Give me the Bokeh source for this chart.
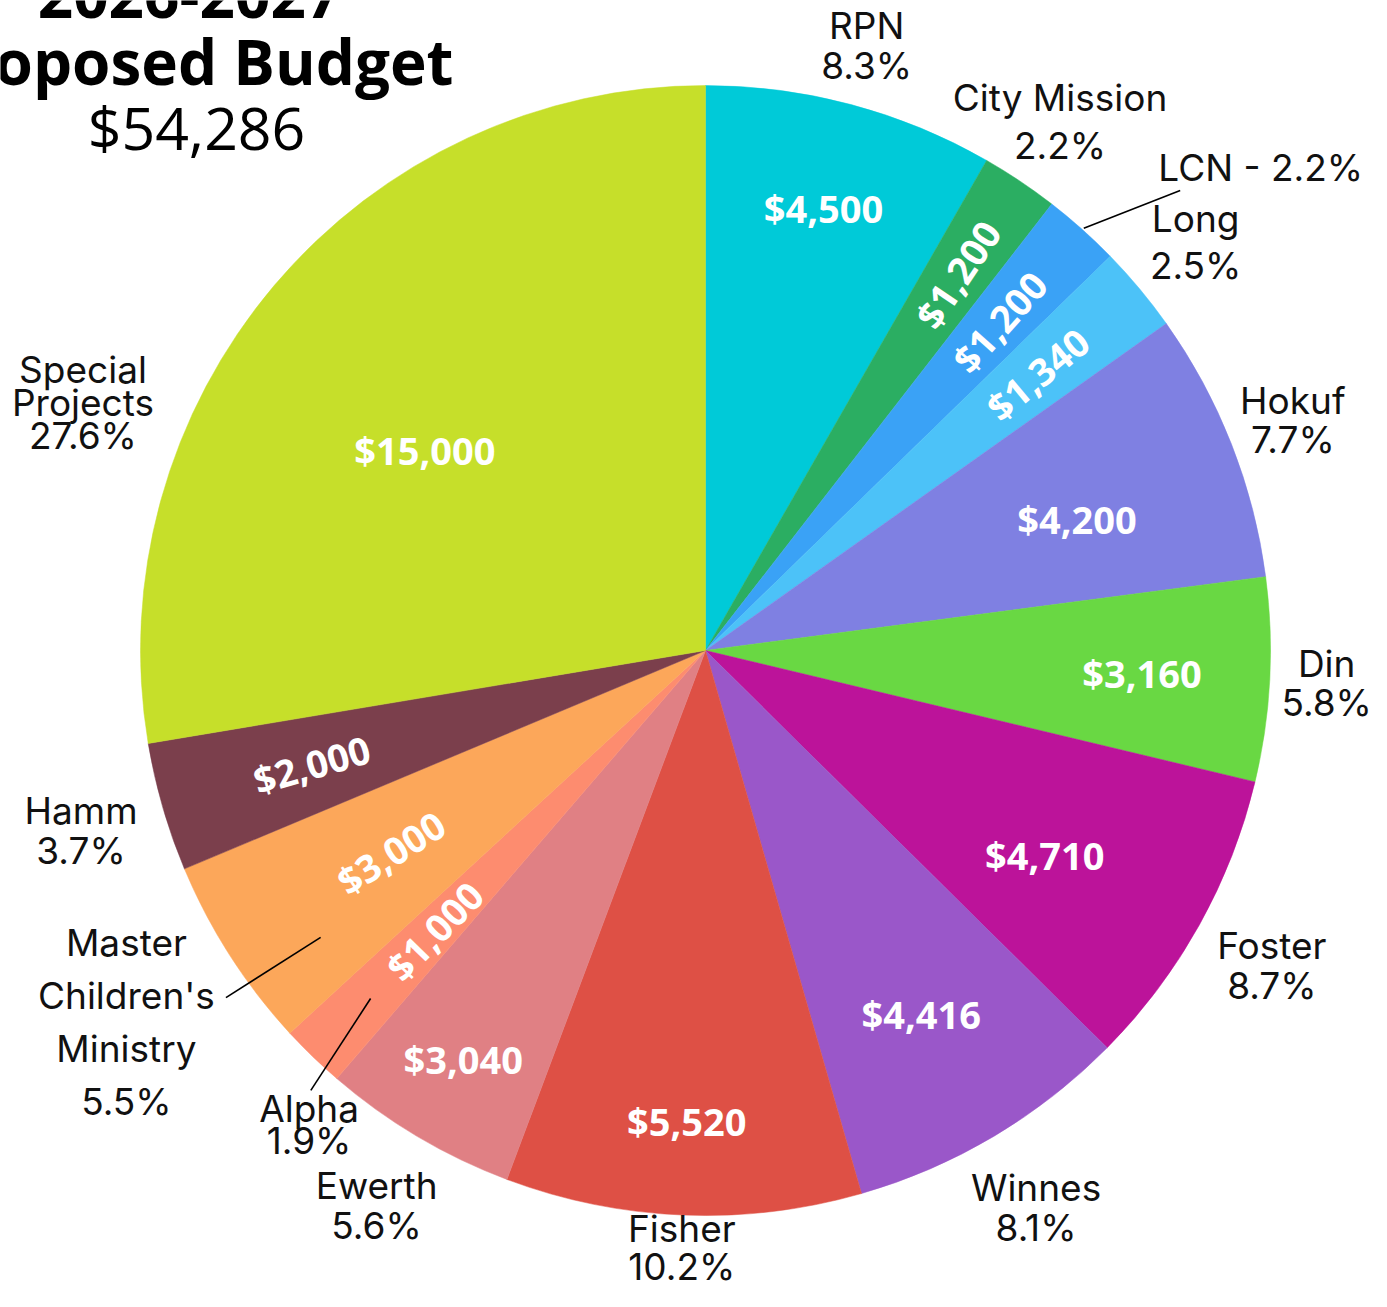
import math
from bokeh.plotting import figure
from bokeh.models import Range1d
from bokeh.embed import file_html
from bokeh.resources import INLINE
from bokeh.core.properties import value

# ---------------- data ----------------
names = ["RPN", "City Mission", "LCN", "Long", "Hokuf", "Din", "Foster", "Winnes",
         "Fisher", "Ewerth", "Alpha", "Master Children's Ministry", "Hamm", "Special Projects"]
amounts = [4500, 1200, 1200, 1340, 4200, 3160, 4710, 4416, 5520, 3040, 1000, 3000, 2000, 15000]
amount_labels = ["$4,500", "$1,200", "$1,200", "$1,340", "$4,200", "$3,160", "$4,710", "$4,416",
                 "$5,520", "$3,040", "$1,000", "$3,000", "$2,000", "$15,000"]
pct_labels = ["8.3%", "2.2%", "2.2%", "2.5%", "7.7%", "5.8%", "8.7%", "8.1%",
              "10.2%", "5.6%", "1.9%", "5.5%", "3.7%", "27.6%"]
colors = ["#00CAD8", "#2BAE62", "#3AA2F6", "#4CC2F8", "#7F80E2", "#69D843", "#BC139A", "#9A57C9",
          "#DE5045", "#E08084", "#FD8C6F", "#FCA75A", "#7B3F4C", "#C6DF2A"]
title_year = "2026-2027"
title_main = "Proposed Budget"
title_total = "$54,286"

# ---------------- layout ----------------
W, H = 1371, 1291
IMG_H = 1307
CX, CY = 705, IMG_H - 650
R = 565

def polar(r, ang_deg):
    a = math.radians(ang_deg)
    return CX + r * math.sin(a), CY + r * math.cos(a)

total = sum(amounts)
starts, ends, mids = [], [], []
cum = 0
for v in amounts:
    a0 = cum / total * 360.0
    cum += v
    a1 = cum / total * 360.0
    starts.append(math.radians(90 - a0))
    ends.append(math.radians(90 - a1))
    mids.append((a0 + a1) / 2)

p = figure(width=W, height=H, output_backend="svg", toolbar_location=None,
           x_range=Range1d(0, W), y_range=Range1d(IMG_H - H, IMG_H),
           min_border=0, outline_line_color=None, background_fill_color="white")
p.axis.visible = False
p.grid.visible = False

p.wedge(x=[CX] * len(amounts), y=[CY] * len(amounts), radius=R,
        start_angle=starts, end_angle=ends, direction="clock",
        fill_color=colors, line_color=colors, line_width=0.5)

# value labels inside slices
val_r = [458, 453, 441, 432, 394, 437, 396, 423, 471, 475, 390, 374, 410, 345]
val_ang_off = {4: 2.0, 6: 2.0, 13: -4.7}
rotated = {1: 1, 2: 1, 3: 1, 10: -1, 11: -1, 12: -1}
vx, vy, va = [], [], []
for i in range(len(amounts)):
    ang = mids[i] + val_ang_off.get(i, 0)
    x, y = polar(val_r[i], ang)
    vx.append(x); vy.append(y)
    if i in rotated:
        rot = math.radians(90 - mids[i])
        if rotated[i] < 0:
            rot += math.pi
        va.append(rot)
    else:
        va.append(0.0)
p.text(x=vx, y=vy, text=amount_labels, angle=va, text_color="white",
       text_font=value("Open Sans"), text_font_style="bold", text_font_size="38px",
       text_align="center", text_baseline="middle")

# outside labels
name_lines = {"Master Children's Ministry": ["Master", "Children's", "Ministry"],
              "Special Projects": ["Special", "Projects"]}
out_r = [626, 637, 736, 638, 631, 622, 648, 648, 597, 645, 618, 688, 650, 670]
out_ang = {2: 48.97, 10: 219.9, 13: 291.7}
spacing = [40, 48, 40, 47, 39, 39, 40, 40, 38, 40, 32, 53, 40, 33]
lx, ly, lt = [], [], []
for i, nm in enumerate(names):
    if nm == "LCN":
        lines = [nm + " - " + pct_labels[i]]
    else:
        lines = name_lines.get(nm, [nm]) + [pct_labels[i]]
    x, y = polar(out_r[i], out_ang.get(i, mids[i]))
    n = len(lines)
    for k, t in enumerate(lines):
        lx.append(x)
        ly.append(y + ((n - 1) / 2 - k) * spacing[i])
        lt.append(t)
p.text(x=lx, y=ly, text=lt, text_color="#111111", text_font=value("Inter"),
       text_font_size="37px", text_align="center", text_baseline="middle")

# leader lines (LCN, Alpha, Master)
leaders = [(2, 567, 41.85, 661, 45.9), (10, 483, 223.9, 591, 221.9), (11, 480, 233.3, 592, 234.1)]
x0s, y0s, x1s, y1s = [], [], [], []
for _, r0, a0, r1, a1 in leaders:
    a, b = polar(r0, a0)
    c, d = polar(r1, a1)
    x0s.append(a); y0s.append(b); x1s.append(c); y1s.append(d)
p.segment(x0=x0s, y0=y0s, x1=x1s, y1=y1s, line_color="black", line_width=1.6)

# title block (clipped at the page edge, as in the reference)
p.text(x=[189], y=[IMG_H + 5], text=[title_year], text_font=value("Open Sans"),
       text_font_style="bold", text_font_size="62px", text_color="black",
       text_align="center", text_baseline="alphabetic")
p.text(x=[453], y=[IMG_H - 60], text=[title_main], text_font=value("Open Sans"),
       text_font_style="bold", text_font_size="62px", text_color="black",
       text_align="right", text_baseline="alphabetic")
p.text(x=[196], y=[IMG_H - 126], text=[title_total], text_font=value("Open Sans"),
       text_font_size="59px", text_color="black",
       text_align="center", text_baseline="alphabetic")

open("out.html", "w").write(file_html(p, INLINE))
